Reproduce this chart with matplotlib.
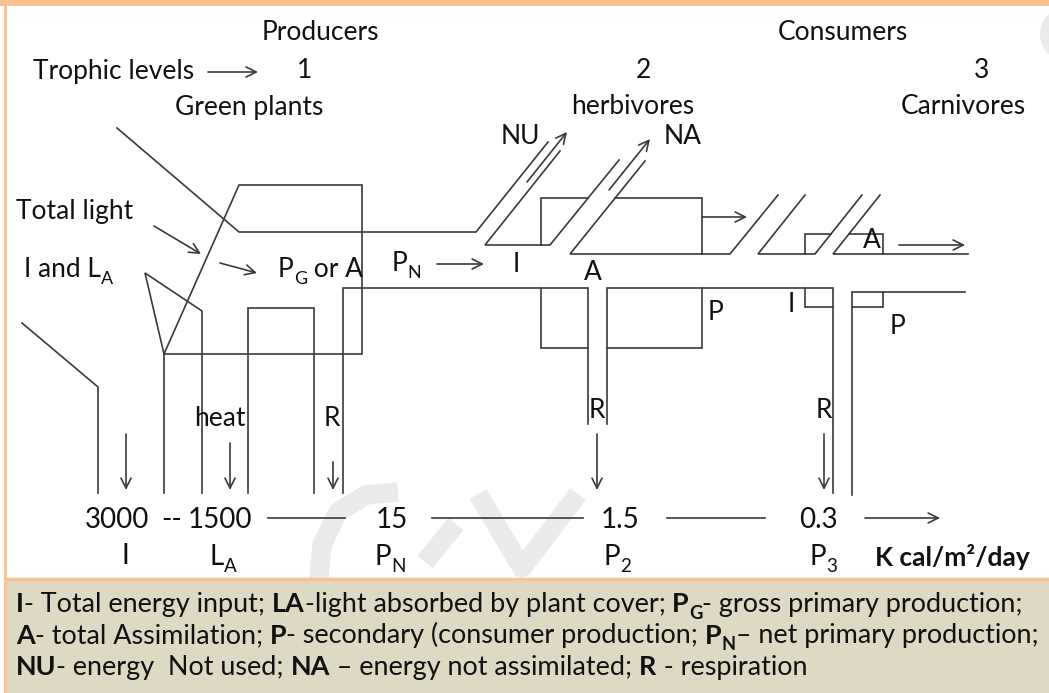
import matplotlib.pyplot as plt
from matplotlib.patches import Rectangle, Ellipse

plt.rcParams['font.family'] = ['Lato', 'DejaVu Sans']

# --- data ---
trophic_levels = ["1", "2", "3"]
level_names = ["Green plants", "herbivores", "Carnivores"]
groups = ["Producers", "Consumers"]
energy_values = ["3000", "1500", "15", "1.5", "0.3"]
energy_labels = [("I", ""), ("L", "A"), ("P", "N"), ("P", "2"), ("P", "3")]
unit = "K cal/m\u00b2/day"

legend_lines = [
    [("I", True, False), ("- Total energy input; ", False, False), ("LA", True, False),
     ("-light absorbed by plant cover; ", False, False), ("P", True, False), ("G", True, True),
     ("- gross primary production;", False, False)],
    [("A", True, False), ("- total Assimilation; ", False, False), ("P", True, False),
     ("- secondary (consumer production; ", False, False), ("P", True, False), ("N", True, True),
     ("\u2013 net primary production;", False, False)],
    [("NU", True, False), ("- energy  Not used; ", False, False), ("NA", True, False),
     (" \u2013 energy not assimilated; ", False, False), ("R", True, False),
     (" - respiration", False, False)],
]

INK = "#111111"
LINE = "#3a3a3a"
ORANGE = "#fac090"
BEIGE = "#ddd9c3"
WM = "#ebebeb"

fig = plt.figure(figsize=(10.49, 6.93), dpi=100)
ax = fig.add_axes([0, 0, 1, 1])
ax.set_xlim(0, 1049)
ax.set_ylim(693, 0)
ax.axis("off")
renderer = fig.canvas.get_renderer()

# frame
ax.add_patch(Rectangle((0, 0), 1049, 6, color=ORANGE, lw=0))
ax.add_patch(Rectangle((5, 579), 1044, 114, color=BEIGE, lw=0))
ax.plot([5, 1049], [579, 579], color=ORANGE, lw=2.5)
ax.plot([5, 5], [0, 693], color=ORANGE, lw=2)

# faint watermark
ax.add_patch(Ellipse((1062, 34), 44, 50, color=WM, lw=0, zorder=0))
ax.plot([318, 322, 338, 366, 398], [588, 545, 512, 495, 492], color=WM, lw=14,
        solid_capstyle="butt", zorder=0)
ax.plot([425, 456], [562, 524], color=WM, lw=14, solid_capstyle="butt", zorder=0)
ax.plot([478, 522, 578], [494, 568, 494], color=WM, lw=14, solid_capstyle="butt", zorder=0)

# diagram outline (flow channels)
paths = [
    [(117, 128), (239, 232), (476, 232), (548, 142)],
    [(560, 151), (485, 245), (550, 245), (619, 160)],
    [(645, 161), (570, 254), (730, 254), (778, 195)],
    [(541, 245), (541, 198), (588, 198)],
    [(615, 198), (702, 198), (702, 254)],
    [(805, 195), (758, 254), (815, 254), (862, 195)],
    [(805, 254), (805, 234), (831, 234)],
    [(880, 195), (833, 254), (968, 254)],
    [(849, 234), (883, 234), (883, 254)],
    [(343, 493), (343, 288), (588, 288), (588, 424)],
    [(607, 424), (607, 288), (833, 288), (833, 493)],
    [(541, 288), (541, 348), (588, 348)],
    [(607, 348), (702, 348), (702, 288)],
    [(805, 288), (805, 307), (833, 307)],
    [(852, 495), (852, 292), (965, 292)],
    [(852, 307), (883, 307), (883, 292)],
    [(164, 493), (164, 354), (362, 354), (362, 185), (239, 185), (164, 354)],
    [(164, 354), (145, 273), (202, 311), (202, 493)],
    [(248, 493), (248, 308), (314, 308), (314, 493)],
    [(22, 323), (98, 387), (98, 493)],
    [(268, 518), (345, 518)],
    [(432, 518), (583, 518)],
    [(667, 518), (765, 518)],
]
for p in paths:
    xs, ys = zip(*p)
    ax.plot(xs, ys, color=LINE, lw=1.2, solid_joinstyle="miter")

arrows = [
    ((702, 217), (747, 217)), ((899, 245), (965, 245)),
    ((154, 226), (201, 254)), ((220, 263), (257, 273)),
    ((126, 434), (126, 490)), ((230, 443), (230, 490)), ((333, 462), (333, 490)),
    ((597, 434), (597, 490)), ((824, 434), (824, 490)),
    ((437, 264), (484, 264)), ((527, 182), (567, 132)), ((609, 190), (650, 139)),
    ((208, 72), (258, 72)), ((865, 518), (940, 518)),
]
for a, b in arrows:
    ax.annotate("", xy=b, xytext=a,
                arrowprops=dict(arrowstyle="->", color=LINE, lw=1.2,
                                mutation_scale=18, shrinkA=0, shrinkB=0))


def width_of(s, **kw):
    t1 = ax.text(0, 0, "x" + s + "x", **kw)
    t2 = ax.text(0, 0, "xx", **kw)
    w = t1.get_window_extent(renderer).width - t2.get_window_extent(renderer).width
    t1.remove()
    t2.remove()
    return w


def runs_width(runs, size):
    tot = 0
    for s, bold, sub in runs:
        fs = size * 0.68 if sub else size
        tot += width_of(s, fontsize=fs, fontweight="bold" if bold else "normal")
    return tot


def rich(x, y, runs, size, color=INK):
    for s, bold, sub in runs:
        fs = size * 0.68 if sub else size
        kw = dict(fontsize=fs, fontweight="bold" if bold else "normal", color=color)
        ax.text(x, y + (size * 0.35 if sub else 0), s, va="baseline", ha="left", **kw)
        x += width_of(s, **kw)
    return x


def label(x, y, s, sub="", size=19, ha="center"):
    if not sub:
        ax.text(x, y, s, fontsize=size, color=INK, ha=ha, va="center")
        return
    w = width_of(s, fontsize=size) + width_of(sub, fontsize=size * 0.68)
    x0 = x - w / 2 if ha == "center" else x
    rich(x0, y + size * 0.45, [(s, False, False), (sub, False, True)], size)


# headings
label(320, 33, groups[0])
label(843, 33, groups[1])
label(33, 72, "Trophic levels", ha="left")
for x, s in zip([305, 643, 982], trophic_levels):
    label(x, 70, s)
for x, s in zip([249, 633, 963], level_names):
    label(x, 107, s)

# diagram labels
label(520, 137, "NU")
label(683, 137, "NA")
label(16, 211, "Total light", ha="left")
rich(24, 277, [("I and L", False, False), ("A", False, True)], 19)
rich(278, 277, [("P", False, False), ("G", False, True), (" or A", False, False)], 19)
rich(392, 271, [("P", False, False), ("N", False, True)], 19)
label(516, 265, "I")
label(593, 272, "A")
label(715, 313, "P")
label(791, 305, "I")
label(897, 326, "P")
label(872, 241, "A")
label(220, 419, "heat")
label(332, 419, "R")
label(597, 410, "R")
label(824, 410, "R")

# energy flow values
for x, s in zip([117, 220, 392, 620, 818], energy_values):
    label(x, 520, s, size=20)
label(172, 520, "--", size=20)
for x, (s, sub) in zip([125, 223, 390, 617, 823], energy_labels):
    label(x, 556, s, sub, size=20)
ax.text(875, 557, unit, fontsize=19, fontweight="bold", color=INK, va="center")

# legend box, sized so the first line spans the box like the reference
leg_size = 17 * 1009 / runs_width(legend_lines[0], 17)
for i, runs in enumerate(legend_lines):
    rich(16, 612 + i * 31.5, runs, leg_size)

fig.savefig("out.png", dpi=100)
